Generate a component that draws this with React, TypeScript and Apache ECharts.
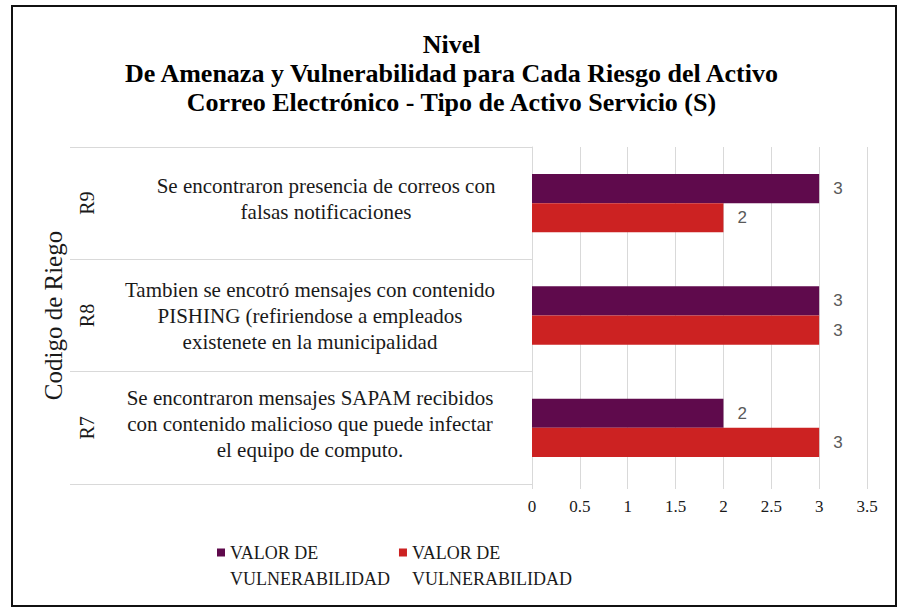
import React, { useEffect, useRef } from "react";
import * as echarts from "echarts";

const TITLE_LINES = [
  "Nivel",
  "De Amenaza y Vulnerabilidad para Cada Riesgo del Activo",
  "Correo Electrónico - Tipo de Activo Servicio (S)",
];
const CATEGORIES = ["R7", "R8", "R9"];
const DESCRIPTIONS = [
  "Se encontraron mensajes SAPAM recibidos\ncon contenido malicioso que puede infectar\nel equipo de computo.",
  "Tambien se encotró mensajes con contenido\nPISHING (refiriendose a empleados\nexistenete en la municipalidad",
  "Se encontraron presencia de correos con\nfalsas notificaciones",
];
const SERIES_NAMES = ["VALOR DE VULNERABILIDAD", "VALOR DE VULNERABILIDAD (rojo)"];
const LEGEND_LABEL = "VALOR DE\nVULNERABILIDAD";
const PURPLE_VALUES = [2, 3, 3];
const RED_VALUES = [3, 3, 2];
const AXIS_NAME = "Codigo de Riego";

const SERIF = "Liberation Serif";
const SANS = "Liberation Sans";

export default function App() {
  const ref = useRef<HTMLDivElement>(null);
  useEffect(() => {
    document.body.style.margin = "0";
    const chart = echarts.init(ref.current!, null, { renderer: "svg" });
    const legendIcon = "path://M0,0H8V8H0Z M0,35H0.01V35.01H0Z";
    const labelBase = {
      fontFamily: SERIF,
      fontSize: 21,
      lineHeight: 26,
      color: "#1a1a1a",
      align: "center",
    };
    chart.setOption({
      animation: false,
      backgroundColor: "#ffffff",
      textStyle: { fontFamily: SERIF },
      title: {
        text: TITLE_LINES.join("\n"),
        left: "center",
        top: 25,
        textStyle: {
          fontFamily: SERIF,
          fontSize: 26,
          fontWeight: "bold",
          lineHeight: 29,
          color: "#000000",
        },
      },
      graphic: [
        {
          type: "rect",
          shape: { x: 12, y: 6, width: 884, height: 600 },
          style: { fill: "none", stroke: "#111111", lineWidth: 2 },
          silent: true,
        },
      ],
      grid: { left: 532, right: 36, top: 147, bottom: 128 },
      legend: {
        left: 212,
        top: 535,
        itemWidth: 8,
        itemHeight: 35,
        itemGap: 9,
        data: SERIES_NAMES.map((n) => ({ name: n, icon: legendIcon })),
        formatter: () => LEGEND_LABEL,
        textStyle: {
          fontFamily: SERIF,
          fontSize: 18,
          lineHeight: 26,
          color: "#1a1a1a",
        },
      },
      xAxis: {
        type: "value",
        min: 0,
        max: 3.5,
        interval: 0.5,
        axisLine: { show: false },
        axisTick: { show: true, length: 5, lineStyle: { color: "#d9d9d9" } },
        splitLine: { show: true, lineStyle: { color: "#d9d9d9", width: 1 } },
        axisLabel: {
          fontFamily: SERIF,
          fontSize: 17,
          color: "#1a1a1a",
          margin: 14,
        },
      },
      yAxis: [
        {
          type: "category",
          data: CATEGORIES,
          axisLine: { show: true, lineStyle: { color: "#d9d9d9" } },
          axisTick: { show: true, length: 462, lineStyle: { color: "#d9d9d9" } },
          axisLabel: {
            formatter: (_v: string, i: number) =>
              "{c" + i + "|" + DESCRIPTIONS[i] + "}",
            align: "center",
            verticalAlign: "middle",
            margin: 222,
            fontFamily: SERIF,
            fontSize: 21,
            lineHeight: 26,
            color: "#1a1a1a",
            rich: {
              c0: { ...labelBase, padding: [0, 0, 8, 0] },
              c1: { ...labelBase },
              c2: { ...labelBase, padding: [0, 0, 8, 32] },
            },
          },
        },
        {
          type: "category",
          data: CATEGORIES,
          position: "left",
          axisLine: { show: false },
          axisTick: { show: false },
          axisLabel: {
            rotate: 90,
            align: "center",
            verticalAlign: "middle",
            margin: 445,
            fontFamily: SERIF,
            fontSize: 20,
            color: "#1a1a1a",
          },
          name: AXIS_NAME,
          nameLocation: "middle",
          nameRotate: 90,
          nameGap: 466,
          nameTextStyle: {
            fontFamily: SERIF,
            fontSize: 25,
            color: "#1a1a1a",
          },
        },
      ],
      series: [
        {
          name: SERIES_NAMES[0],
          type: "bar",
          yAxisIndex: 0,
          data: PURPLE_VALUES,
          barGap: "0%",
          barCategoryGap: "48%",
          itemStyle: { color: "#5f0a4c" },
          label: {
            show: true,
            position: "right",
            distance: 14,
            fontFamily: SANS,
            fontSize: 17,
            color: "#595959",
          },
        },
        {
          name: SERIES_NAMES[1],
          type: "bar",
          yAxisIndex: 0,
          data: RED_VALUES,
          barGap: "0%",
          barCategoryGap: "48%",
          itemStyle: { color: "#cc2222" },
          label: {
            show: true,
            position: "right",
            distance: 14,
            fontFamily: SANS,
            fontSize: 17,
            color: "#595959",
          },
        },
      ],
    });
    return () => chart.dispose();
  }, []);
  return <div ref={ref} style={{ width: 903, height: 612 }} />;
}
